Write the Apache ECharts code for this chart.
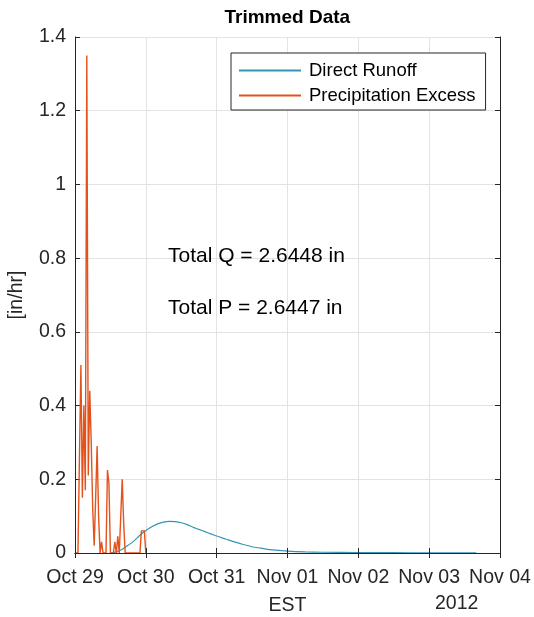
<!DOCTYPE html>
<html>
<head>
<meta charset="utf-8">
<script src="https://cdn.jsdelivr.net/npm/echarts@6/dist/echarts.min.js"></script>
<style>html,body{margin:0;padding:0;background:#fff;}#c{width:534px;height:617px;}</style>
</head>
<body>
<div id="c"></div>
<script>
// Time origin: 2012-10-29 00:00 (EST shown as UTC to keep day boundaries)
const startDate = Date.UTC(2012, 9, 29);
const dayMs = 86400000;
const xTickLabels = ['Oct 29', 'Oct 30', 'Oct 31', 'Nov 01', 'Nov 02', 'Nov 03', 'Nov 04'];
const yTicks = [0, 0.2, 0.4, 0.6, 0.8, 1, 1.2, 1.4];

// Precipitation excess [in/hr], hours after Oct 29 00:00
const precipHours = [0, 1, 1.5, 2, 2.5, 3, 3.5, 4, 4.5, 5, 5.5, 6, 6.5, 7, 7.5, 8, 8.5, 9, 9.5, 10.5, 11, 11.5, 12, 13, 13.5, 14, 14.5, 15, 15.5, 16, 16.5, 17, 22, 22.5, 23, 23.5, 24];
const precipValues = [0, 0, 0, 0.51, 0.15, 0.40, 0.17, 1.35, 0.21, 0.44, 0.30, 0.12, 0.02, 0.15, 0.29, 0.10, 0, 0.03, 0, 0, 0.225, 0.19, 0, 0, 0.03, 0, 0.045, 0, 0, 0.20, 0.08, 0, 0, 0.06, 0.055, 0.06, 0];

// Direct runoff [in/hr], hours after Oct 29 00:00
const runoffHours = [12, 14, 16, 18, 20, 22, 24, 26, 28, 30, 32, 34, 36, 38, 40, 42, 44, 46, 48, 51, 54, 57, 60, 63, 66, 69, 72, 78, 84, 96, 108, 120, 132, 136];
const runoffValues = [0, 0.003, 0.010, 0.021, 0.033, 0.048, 0.061, 0.071, 0.079, 0.084, 0.086, 0.085, 0.082, 0.077, 0.070, 0.064, 0.058, 0.052, 0.046, 0.038, 0.030, 0.023, 0.017, 0.013, 0.009, 0.007, 0.005, 0.003, 0.002, 0.0012, 0.0008, 0.0005, 0.0003, 0.0003];

const totalQ = 'Total Q = 2.6448 in';
const totalP = 'Total P = 2.6447 in';

const toPairs = (hs, vs) => hs.map((h, i) => [startDate + h * 3600000, vs[i]]);

const axisColor = '#262626';
const font = 'Liberation Sans, Arial, sans-serif';

const chart = echarts.init(document.getElementById('c'), null, {renderer: 'canvas'});
const xBase = {
  type: 'value', min: startDate, max: startDate + 6 * dayMs, interval: dayMs,
  axisLine: {show: true, lineStyle: {color: axisColor, width: 1}},
  axisTick: {show: true, inside: true, length: 5, lineStyle: {color: axisColor}},
};
const yBase = {
  type: 'value', min: 0, max: 1.4, interval: 0.2,
  axisLine: {show: true, lineStyle: {color: axisColor, width: 1}},
  axisTick: {show: true, inside: true, length: 5, lineStyle: {color: axisColor}},
};
chart.setOption({
  animation: false,
  backgroundColor: '#fff',
  grid: {left: 75, right: 34, top: 37, bottom: 64, containLabel: false, outerBoundsMode: 'none'},
  xAxis: [
    Object.assign({}, xBase, {
      position: 'bottom', z: 10,
      splitLine: {show: false},
      axisLabel: {
        show: true, margin: 15, color: axisColor, fontSize: 19.5, fontFamily: font,
        showMinLabel: true, showMaxLabel: true,
        formatter: v => xTickLabels[Math.round((v - startDate) / dayMs)]
      },
      name: 'EST', nameLocation: 'middle', nameGap: 43,
      nameTextStyle: {color: axisColor, fontSize: 19.5, fontFamily: font}
    }),
    Object.assign({}, xBase, {
      position: 'top',
      splitLine: {show: true, lineStyle: {color: '#e3e3e3', width: 1}},
      axisLabel: {show: false}
    })
  ],
  yAxis: [
    Object.assign({}, yBase, {
      position: 'left',
      splitLine: {show: true, lineStyle: {color: '#e3e3e3', width: 1}},
      axisLabel: {
        show: true, margin: 9, color: axisColor, fontSize: 19.5, fontFamily: font,
        formatter: v => String(yTicks[Math.round(v / 0.2)])
      },
      name: '[in/hr]', nameLocation: 'middle', nameGap: 48,
      nameTextStyle: {color: axisColor, fontSize: 19.5, fontFamily: font}
    }),
    Object.assign({}, yBase, {position: 'right', splitLine: {show: false}, axisLabel: {show: false}})
  ],
  legend: {
    orient: 'vertical', left: 231, top: 53, z: 20,
    padding: [8, 10, 5, 8], itemGap: 6,
    itemWidth: 62, itemHeight: 2, icon: 'rect',
    backgroundColor: '#fff', borderColor: axisColor, borderWidth: 1,
    textStyle: {color: '#000', fontSize: 18.5, fontFamily: font, padding: [0, 0, 0, 3]},
    data: ['Direct Runoff', 'Precipitation Excess']
  },
  series: [
    {
      name: 'Direct Runoff', type: 'line', smooth: 0.3, showSymbol: false, symbol: 'none',
      xAxisIndex: 0, yAxisIndex: 0,
      lineStyle: {color: '#3596b2', width: 1.2}, itemStyle: {color: '#3596b2'},
      data: toPairs(runoffHours, runoffValues), z: 3
    },
    {
      name: 'Precipitation Excess', type: 'line', showSymbol: false, symbol: 'none',
      xAxisIndex: 0, yAxisIndex: 0,
      lineStyle: {color: '#e4521c', width: 1.4}, itemStyle: {color: '#e4521c'},
      data: toPairs(precipHours, precipValues), z: 4
    }
  ],
  graphic: [
    {type: 'text', z: 100, left: 287.5 - 63, top: 8,
     style: {text: 'Trimmed Data', fill: '#000', font: 'bold 19px ' + font}},
    {type: 'text', z: 100, left: 168, top: 246,
     style: {text: totalQ, fill: '#000', font: '21px ' + font}},
    {type: 'text', z: 100, left: 168, top: 298,
     style: {text: totalP, fill: '#000', font: '21px ' + font}},
    {type: 'text', z: 100, left: 435, top: 594,
     style: {text: '2012', fill: axisColor, font: '19.5px ' + font}}
  ]
});
</script>
</body>
</html>
